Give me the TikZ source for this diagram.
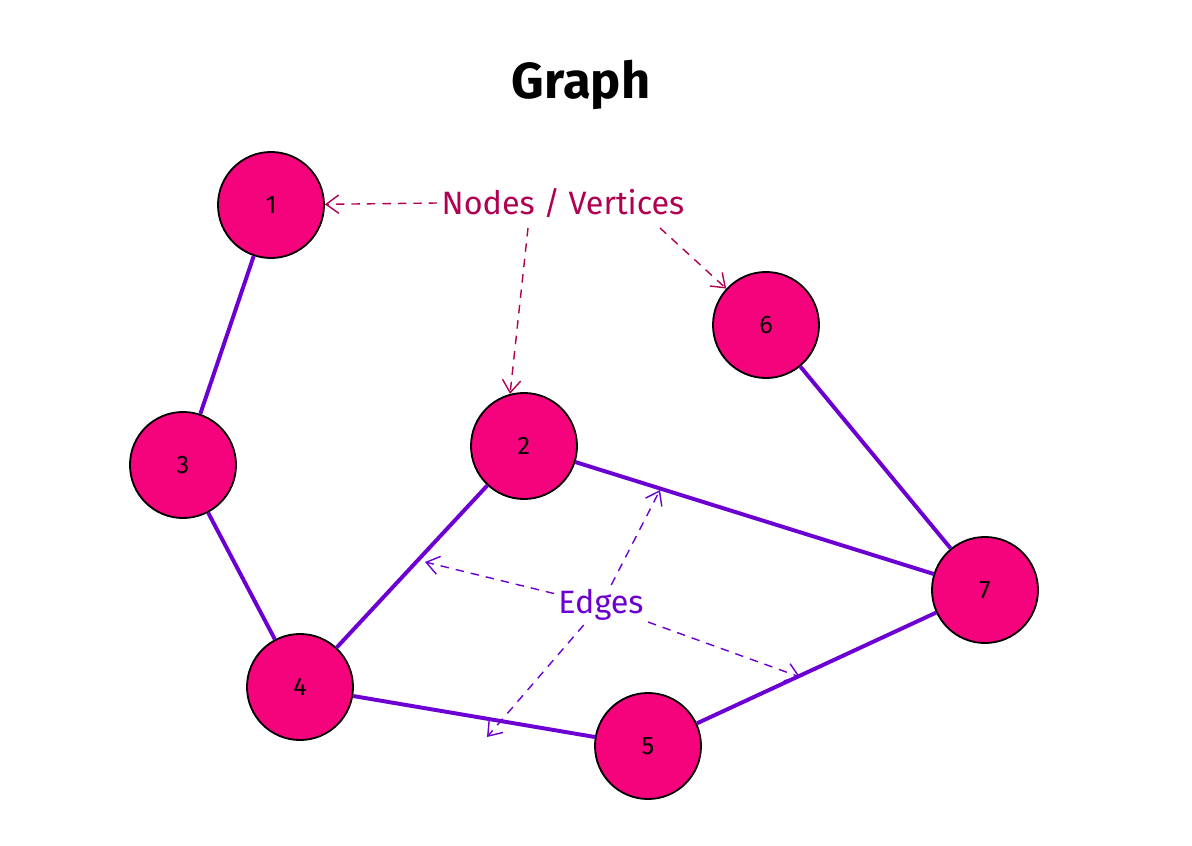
\documentclass[tikz,border=0pt]{standalone}
\usepackage{fontspec}
\setmainfont{Fira Sans}
\usetikzlibrary{arrows.meta}
\definecolor{nodepink}{HTML}{F5027D}
\definecolor{edgepurple}{HTML}{6C00D2}
\definecolor{notered}{HTML}{B0004F}
\begin{document}
\begin{tikzpicture}[x=0.025cm,y=-0.025cm,
    vertex/.style={circle,draw=black,line width=1.3pt,fill=nodepink,minimum size=2.65cm,inner sep=0pt,font=\fontsize{18}{18}\selectfont},
    edge/.style={edgepurple,line width=2.8pt},
    note/.style={font=\fontsize{23}{23}\selectfont,inner sep=3pt},
    hint/.style={dashed,dash pattern=on 6pt off 5pt,line width=1pt,-{Straight Barb[length=9pt,width=13pt]}}]

        \useasboundingbox (0,0) rectangle (1192,846);

        \node[font=\fontsize{36}{36}\selectfont\bfseries] (title) at (581,85) {Graph};

        \node[vertex] (n1) at (271,205) {1};
        \node[vertex] (n3) at (183,465) {3};
        \node[vertex] (n2) at (524,446) {2};
        \node[vertex] (n6) at (766,325) {6};
        \node[vertex] (n7) at (985,590) {7};
        \node[vertex] (n4) at (300,687) {4};
        \node[vertex] (n5) at (648,746) {5};

        \draw[edge] (n1) -- (n3);
        \draw[edge] (n3) -- (n4);
        \draw[edge] (n4) -- (n2);
        \draw[edge] (n2) -- (n7);
        \draw[edge] (n6) -- (n7);
        \draw[edge] (n7) -- (n5);
        \draw[edge] (n4) -- (n5);

        % labels with their pointers
        \node[note,text=notered] (lblnodes) at (563,203) {Nodes / Vertices};
        \coordinate (nvmid) at (528,228);
        \coordinate (nvright) at (660,228);
        \draw[hint,notered] (lblnodes.west) -- (n1);
        \draw[hint,notered] (nvmid) -- (n2.105);
        \draw[hint,notered] (nvright) -- (n6);

        \node[note,text=edgepurple] (lbledges) at (601,605) {Edges};
        \coordinate (eleft) at (425,562);
        \coordinate (eright) at (800,677);
        \coordinate (eup) at (660,490);
        \coordinate (edown) at (487,737);
        \draw[hint,edgepurple] (lbledges) -- (eleft);
        \draw[hint,edgepurple] (lbledges) -- (eright);
        \draw[hint,edgepurple] (lbledges) -- (eup);
        \draw[hint,edgepurple] (lbledges) -- (edown);
    \end{tikzpicture}
\end{document}
